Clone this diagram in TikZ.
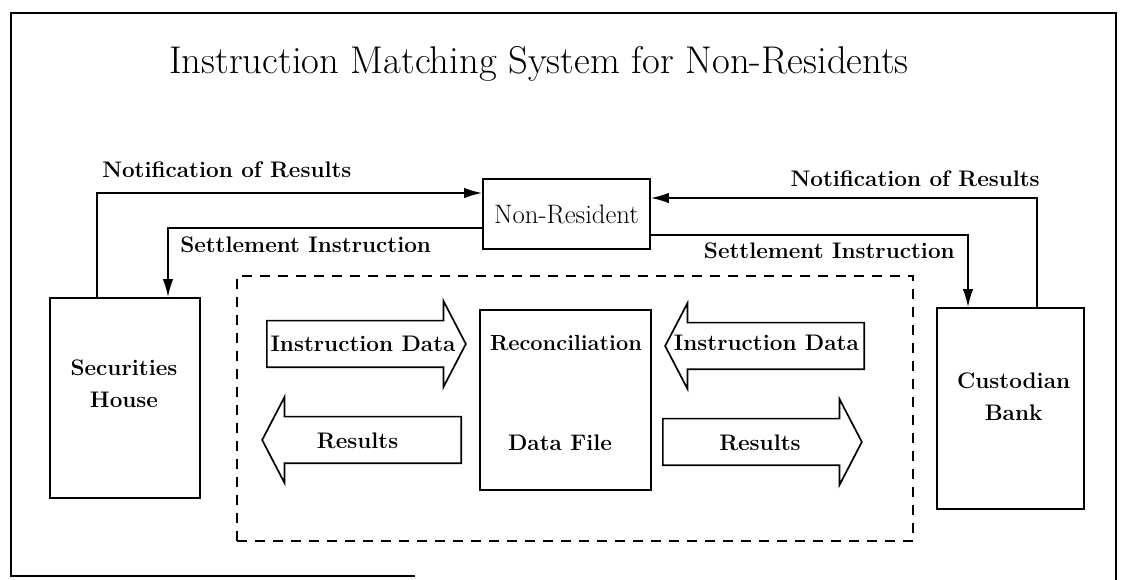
\documentclass[tikz,border=0pt]{standalone}
\usepackage{tikz}
\usetikzlibrary{shapes, arrows.meta, positioning}

\begin{document}
\begin{tikzpicture}[
	box/.style={rectangle,draw,line width=1.2pt,inner sep=0pt},
	lbl/.style={font=\fontsize{16}{23}\selectfont\bfseries,inner sep=0pt,align=center},
	bigarrow/.style={single arrow,draw,line width=1.2pt,inner xsep=0pt,inner ysep=0.5625cm,single arrow head extend=0.4875cm,single arrow tip angle=125,minimum height=4.975cm,anchor=tail},
	link/.style={line width=1.2pt,-{Latex[length=4.5mm,width=2.6mm]}}
]
	%\draw[gray,step=1] (0,0) grid (28,14);
	\useasboundingbox (0,0) rectangle (28.05,14.5);
	\draw[line width=1.8pt] (10.375,0.1) -- (0.275,0.1) -- (0.275,14.175) -- (27.9,14.175) -- (27.9,0);

	\node[anchor=base,inner sep=0pt,font=\fontsize{27.5}{33}\selectfont] (title) at (13.475,12.65) {Instruction Matching System for Non-Residents};

	% outer parties
	\node[box,minimum width=4.175cm,minimum height=1.75cm,font=\fontsize{19}{23}\selectfont] (NR) at (14.1625,9.15) {Non-Resident};
	\node[box,minimum width=3.75cm,minimum height=5cm] (SH) at (3.125,4.55) {};
	\node[lbl] (SHt) at (3.1,4.9125) {Securities\\House};
	\node[box,minimum width=3.675cm,minimum height=5.025cm] (CB) at (25.2625,4.2875) {};
	\node[lbl] (CBt) at (25.34,4.575) {Custodian\\Bank};

	% matching system
	\node[rectangle,draw,line width=1.2pt,dash pattern=on 0.25cm off 0.2cm,minimum width=16.9cm,minimum height=6.625cm] (sys) at (14.375,4.2875) {};
	\node[box,minimum width=4.275cm,minimum height=4.5cm] (RC) at (14.1375,4.5) {};
	\node[lbl,font=\fontsize{15.5}{18}\selectfont\bfseries] (RCt) at (14.15,5.925) {Reconciliation};
	\node[lbl] (RCd) at (14.0,3.425) {Data File};

	\node[bigarrow] (idL) at (6.65,5.9) {};
	\node[bigarrow,shape border rotate=180] (idR) at (21.625,5.85) {};
	\node[bigarrow,shape border rotate=180] (resL) at (11.55,3.5) {};
	\node[bigarrow] (resR) at (16.55,3.45) {};
	\node[lbl] (idLt) at (9.075,5.9) {Instruction Data};
	\node[lbl] (idRt) at (19.16,5.925) {Instruction Data};
	\node[lbl] (resLt) at (8.94,3.475) {Results};
	\node[lbl] (resRt) at (19.0,3.425) {Results};

	% messages
	\node[lbl,anchor=base west] (notL) at (2.55,10.05) {Notification of Results};
	\node[lbl,anchor=base west] (setL) at (4.5,8.175) {Settlement Instruction};
	\node[lbl,anchor=base east] (notR) at (26.0,9.825) {Notification of Results};
	\node[lbl,anchor=base east] (setR) at (23.875,8.025) {Settlement Instruction};

	\draw[link] ([xshift=-0.7cm]SH.north) |- ([yshift=0.525cm]NR.west);
	\draw[link] ([yshift=-0.35cm]NR.west) -| ([xshift=1.075cm]SH.north);
	\draw[link] ([xshift=0.6625cm]CB.north) |- ([yshift=0.4cm]NR.east);
	\draw[link] ([yshift=-0.525cm]NR.east) -| ([xshift=-1.0625cm]CB.north);

\end{tikzpicture}
\end{document}
